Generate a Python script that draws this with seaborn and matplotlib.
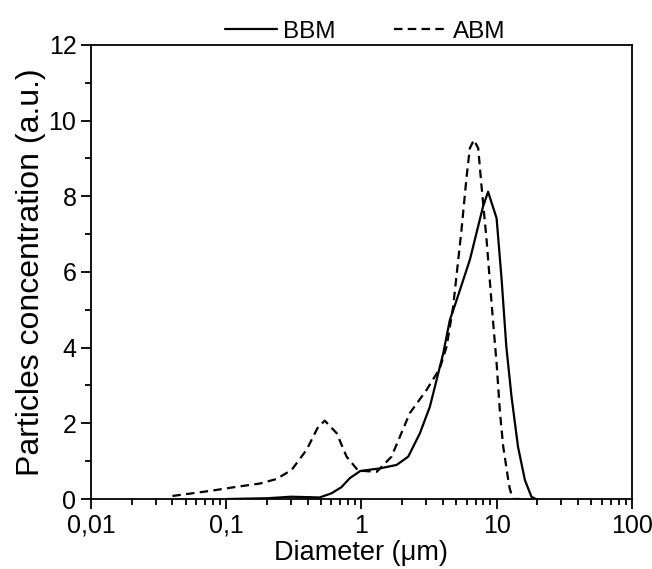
import numpy as np
import pandas as pd
import seaborn as sns
import matplotlib.pyplot as plt
from matplotlib.ticker import FixedLocator, LogLocator, FuncFormatter, MultipleLocator

# --- data ---
bbm_d = [0.1, 0.2, 0.3, 0.4, 0.49, 0.6, 0.71, 0.82, 0.98, 1.37, 1.82, 2.22, 2.71,
         3.21, 3.6, 4.03, 4.51, 5.0, 6.34, 7.94, 8.65, 10.0, 10.9, 11.8, 12.9,
         14.4, 16.2, 18.1, 19.5]
bbm_c = [0.0, 0.02, 0.06, 0.05, 0.04, 0.15, 0.31, 0.55, 0.74, 0.81, 0.90, 1.12, 1.74,
         2.44, 3.15, 3.85, 4.73, 5.2, 6.32, 7.73, 8.12, 7.42, 5.79, 4.03, 2.70,
         1.38, 0.50, 0.06, 0.0]

abm_d = [0.04, 0.078, 0.113, 0.178, 0.236, 0.305, 0.393, 0.479, 0.536, 0.656, 0.777,
         0.946, 1.3, 1.67, 2.28, 3.03, 3.8, 4.27, 4.77, 5.5, 6.0, 6.34, 6.79, 7.31,
         7.74, 8.43, 8.9, 9.44, 10.0, 10.6, 11.2, 12.2, 12.5, 13.2, 15.0]
abm_c = [0.08, 0.22, 0.31, 0.41, 0.53, 0.77, 1.30, 1.91, 2.07, 1.74, 1.12,
         0.75, 0.72, 1.12, 2.27, 2.88, 3.45, 4.03, 5.08, 7.11, 8.52, 9.27, 9.49, 9.27,
         8.26, 6.85, 5.79, 4.64, 3.59, 2.27, 1.38, 0.5, 0.28, 0.0, 0.0]

df_bbm = pd.DataFrame({'Diameter': bbm_d, 'Conc': bbm_c})
df_abm = pd.DataFrame({'Diameter': abm_d, 'Conc': abm_c})

sns.set_style("ticks")
plt.rcParams['font.family'] = ['Liberation Sans', 'DejaVu Sans']
plt.rcParams['text.color'] = 'black'
plt.rcParams['axes.labelcolor'] = 'black'
plt.rcParams['xtick.color'] = 'black'
plt.rcParams['ytick.color'] = 'black'
plt.rcParams['axes.edgecolor'] = 'black'

fig = plt.figure(figsize=(6.52, 5.69), dpi=100)
ax = fig.add_axes([0.1396, 0.123, 0.8294, 0.798])

sns.lineplot(data=df_bbm, x='Diameter', y='Conc', ax=ax, color='black',
             linewidth=1.6, sort=False, label='BBM')
sns.lineplot(data=df_abm, x='Diameter', y='Conc', ax=ax, color='black',
             linewidth=1.6, sort=False, label='ABM', linestyle=(0, (3.8, 2.4)))

ax.set_xscale('log')
ax.set_xlim(0.01, 100)
ax.set_ylim(0, 12)
ax.yaxis.set_major_locator(MultipleLocator(2))
ax.yaxis.set_minor_locator(MultipleLocator(1))
ax.xaxis.set_major_locator(FixedLocator([0.01, 0.1, 1, 10, 100]))
ax.xaxis.set_minor_locator(LogLocator(base=10, subs=np.arange(2, 10)))
ax.xaxis.set_major_formatter(FuncFormatter(lambda v, p: f"{v:g}".replace('.', ',')))

ax.tick_params(which='major', direction='out', length=7, width=1.3, labelsize=18,
               top=False, right=False)
ax.tick_params(which='minor', direction='out', length=4, width=1.3,
               top=False, right=False)
for s in ax.spines.values():
    s.set_linewidth(1.3)
    s.set_visible(True)

ax.set_xlabel("Diameter (\u03bcm)", fontsize=19.5, labelpad=2)
ax.set_ylabel("Particles concentration (a.u.)", fontsize=23, labelpad=2)

ax.legend(loc='center', bbox_to_anchor=(0.56, 0.944), bbox_transform=fig.transFigure,
          ncol=2, frameon=False, fontsize=17.5, handlelength=2.15, columnspacing=2.4,
          handletextpad=0.25, borderaxespad=0)

fig.savefig('out.png', dpi=100)
